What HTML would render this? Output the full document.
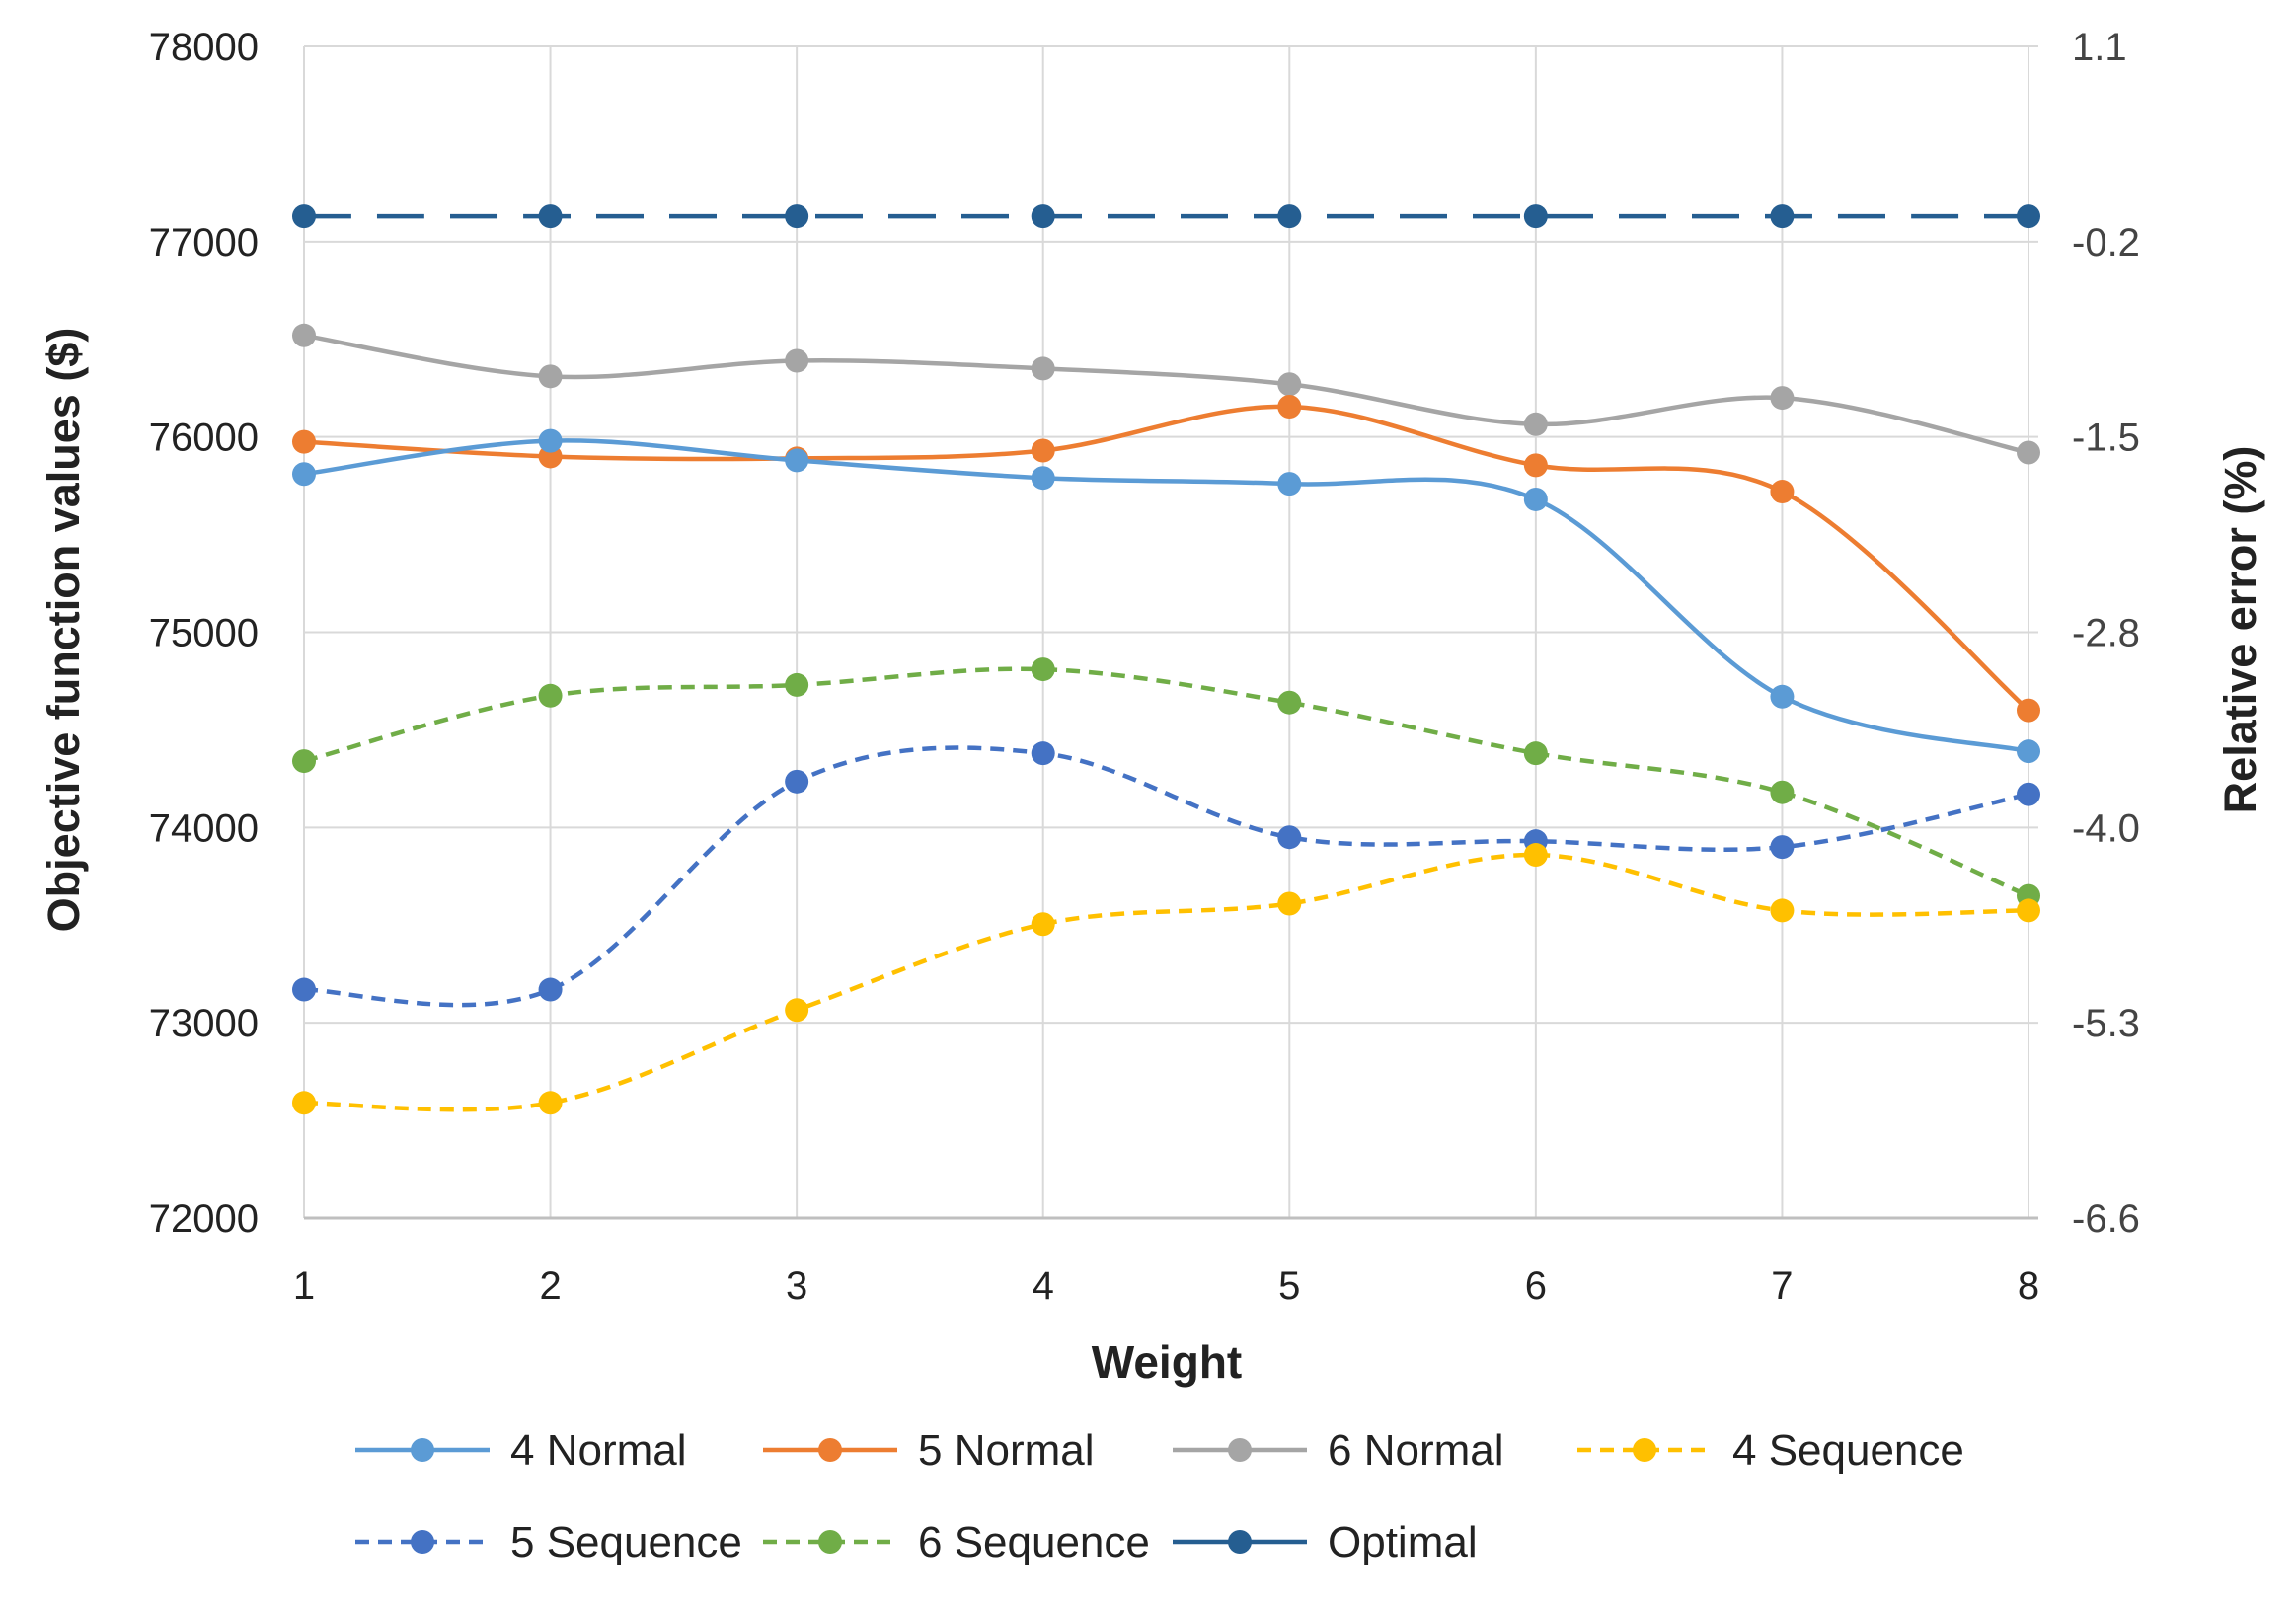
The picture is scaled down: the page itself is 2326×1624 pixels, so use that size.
<!DOCTYPE html>
<html><head><meta charset="utf-8"><style>
html,body{margin:0;padding:0;background:#fff;}
svg{display:block;font-family:"Liberation Sans",sans-serif;}
</style></head><body>
<svg id="chart" width="2326" height="1624" viewBox="0 0 2326 1624" xmlns="http://www.w3.org/2000/svg">
<g id="grid"></g>
<g id="series"></g>
<g id="axes"></g>
<text x="1182" y="1396" font-size="46" font-weight="bold" text-anchor="middle" fill="#222">Weight</text>
<text transform="translate(80,638) rotate(-90)" font-size="45" font-weight="bold" text-anchor="middle" fill="#222">Objective function values ($)</text>
<text transform="translate(2285,638) rotate(-90)" font-size="45" font-weight="bold" text-anchor="middle" fill="#222">Relative error (%)</text>
<g id="legend"></g>
</svg>
<script>
const categories = [1,2,3,4,5,6,7,8];
const leftTicks = [72000,73000,74000,75000,76000,77000,78000];
const rightTicks = ["-6.6","-5.3","-4.0","-2.8","-1.5","-0.2","1.1"];
const seriesNames = ["4 Normal","5 Normal","6 Normal","4 Sequence","5 Sequence","6 Sequence","Optimal"];
const normal4 = [75810,75980,75880,75790,75760,75680,74670,74390];
const normal5 = [75975,75900,75890,75930,76155,75855,75720,74600];
const normal6 = [76520,76310,76390,76350,76270,76065,76200,75920];
const seq4 = [72590,72590,73065,73505,73610,73860,73575,73575];
const seq5 = [73170,73170,74235,74380,73950,73930,73900,74170];
const seq6 = [74340,74675,74730,74810,74640,74380,74180,73650];
const optimal = [77130,77130,77130,77130,77130,77130,77130,77130];

const NS="http://www.w3.org/2000/svg";
const X0=308,X1=2055,YT=47,YB=1234,VMIN=72000,VMAX=78000;
function xs(c){return X0+(c-1)*(X1-X0)/(categories.length-1);}
function ys(v){return YB-(v-VMIN)*(YB-YT)/(VMAX-VMIN);}
function mk(tag,attrs,parent){const e=document.createElementNS(NS,tag);for(const k in attrs)e.setAttribute(k,attrs[k]);parent.appendChild(e);return e;}
const grid=document.getElementById('grid'),axes=document.getElementById('axes'),sg=document.getElementById('series'),lg=document.getElementById('legend');

leftTicks.forEach((t,i)=>{
  const y=ys(t);
  const l=mk('line',{x1:X0,x2:X1+10,y1:y,y2:y,stroke:'#d9d9d9','stroke-width':2},grid);
  
  
  const tx=mk('text',{x:262,y:y+14,'font-size':40,'text-anchor':'end',fill:'#222'},axes);
  tx.textContent=t;
  
  
  const tr=mk('text',{x:2099,y:y+14,'font-size':40,fill:'#444'},axes);
  tr.textContent=rightTicks[i];
  
  
});
categories.forEach(c=>{
  const x=xs(c);
  const l=mk('line',{x1:x,x2:x,y1:YT,y2:YB,stroke:'#d9d9d9','stroke-width':2},grid);
  
  
  const t=mk('text',{x:x,y:1316,'font-size':40,'text-anchor':'middle',fill:'#222'},axes);
  t.textContent=c;
  
  
});
const ax=mk('line',{x1:X0,x2:X1+10,y1:YB,y2:YB,stroke:'#bfbfbf','stroke-width':3},axes);



function smoothPath(pts){
  let d=`M${pts[0][0]},${pts[0][1]}`;
  for(let i=0;i<pts.length-1;i++){
    const p0=pts[i-1]||pts[i],p1=pts[i],p2=pts[i+1],p3=pts[i+2]||p2;
    const c1=[p1[0]+(p2[0]-p0[0])/6,p1[1]+(p2[1]-p0[1])/6];
    const c2=[p2[0]-(p3[0]-p1[0])/6,p2[1]-(p3[1]-p1[1])/6];
    d+=` C${c1[0]},${c1[1]} ${c2[0]},${c2[1]} ${p2[0]},${p2[1]}`;
  }
  return d;
}
const defs=[
  {name:seriesNames[0],data:normal4,color:'#5B9BD5',dash:'',key:'4-normal'},
  {name:seriesNames[1],data:normal5,color:'#ED7D31',dash:'',key:'5-normal'},
  {name:seriesNames[2],data:normal6,color:'#A5A5A5',dash:'',key:'6-normal'},
  {name:seriesNames[3],data:seq4,color:'#FFC000',dash:'14 9',key:'4-sequence'},
  {name:seriesNames[4],data:seq5,color:'#4472C4',dash:'14 9',key:'5-sequence'},
  {name:seriesNames[5],data:seq6,color:'#70AD47',dash:'14 9',key:'6-sequence'},
  {name:seriesNames[6],data:optimal,color:'#255E91',dash:'48 26',key:'optimal'}
];
const drawOrder=[6,2,5,4,3,1,0];
drawOrder.forEach(i=>{
  const s=defs[i];
  const g=mk('g',{},sg);
  
  
  const pts=s.data.map((v,j)=>[xs(categories[j]),ys(v)]);
  const p=mk('path',{d:smoothPath(pts),fill:'none',stroke:s.color,'stroke-width':4.5,'stroke-dasharray':s.dash},g);
  
  
  pts.forEach(pt=>{
    const c=mk('circle',{cx:pt[0],cy:pt[1],r:12,fill:s.color},g);
    
    
  });
});
const legX=[360,773,1188,1598,360,773,1188],legY=[1469,1469,1469,1469,1562,1562,1562];
defs.forEach((s,i)=>{
  const g=mk('g',{},lg);
  
  
  const x=legX[i],y=legY[i];
  mk('line',{x1:x,x2:x+136,y1:y,y2:y,stroke:s.color,'stroke-width':4.5,'stroke-dasharray':s.key==='optimal'?'':s.dash},g);
  mk('circle',{cx:x+68,cy:y,r:12,fill:s.color},g);
  const t=mk('text',{x:x+157,y:y+15,'font-size':44,fill:'#222'},g);
  t.textContent=s.name;
});
</script>
</body></html>
